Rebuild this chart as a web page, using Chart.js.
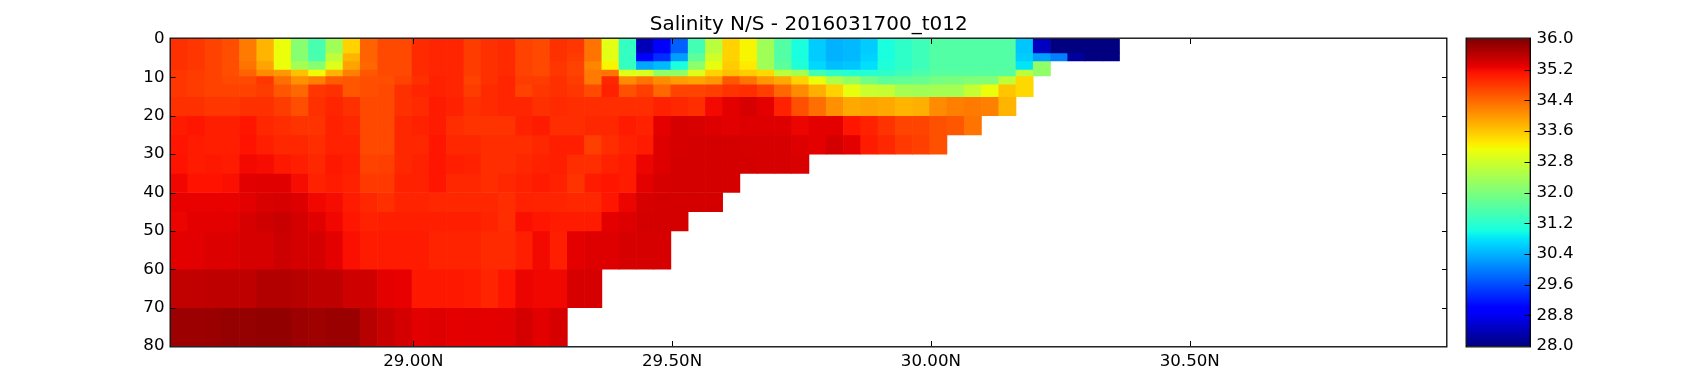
<!DOCTYPE html>
<html><head><meta charset="utf-8">
<style>html,body{margin:0;padding:0;background:#fff;width:1700px;height:384px;overflow:hidden}
#wrapA{position:absolute;left:0;top:0;width:1460px;height:384px}
#wrapB{position:absolute;left:1460px;top:0;width:240px;height:384px}</style>
<script src="https://cdn.jsdelivr.net/npm/chart.js@4"></script>
</head><body>
<div id="wrapA"><canvas id="map"></canvas></div>
<div id="wrapB"><canvas id="bar"></canvas></div>
<script>
const titleText = "Salinity N/S - 2016031700_t012";
const latCenters = [28.5477,28.5810,28.6143,28.6477,28.6810,28.7143,28.7477,28.7810,28.8143,28.8477,28.8810,28.9143,28.9477,28.9810,29.0143,29.0477,29.0810,29.1143,29.1477,29.1810,29.2143,29.2477,29.2810,29.3143,29.3477,29.3810,29.4143,29.4477,29.4810,29.5143,29.5477,29.5810,29.6143,29.6477,29.6810,29.7143,29.7477,29.7810,29.8143,29.8477,29.8810,29.9143,29.9477,29.9810,30.0143,30.0477,30.0810,30.1143,30.1477,30.1810,30.2143,30.2477,30.2810,30.3143,30.3477];
const depthEdges = [0,3.6,5.7,7.9,9.6,11.8,15,20,25,30,35,40,45,50,60,70,80];
const xTickValues = [29,29.5,30,30.5];
const yTickValues = [0,10,20,30,40,50,60,70,80];
const cbarTickValues = [28,28.8,29.6,30.4,31.2,32,32.8,33.6,34.4,35.2,36];

const row00 = [34.87,34.82,34.72,34.62,34.25,33.75,33.1,32.1,31.5,32.35,33.5,34.45,34.67,34.67,34.92,34.97,34.97,34.77,34.87,34.92,34.72,34.67,34.87,34.82,34.3,33.0,31.3,28.4,28.85,29.75,31.45,32.6,33.5,33.2,32.35,31.6,31.05,30.6,30.4,30.45,30.6,31.05,31.25,31.4,31.6,31.6,31.6,31.6,31.6,30.55,28.45,28,28,28,28];
const row01 = [34.87,34.82,34.72,34.62,34.25,33.75,33.1,32.1,31.5,32.65,33.75,34.45,34.67,34.67,34.92,34.97,34.97,34.77,34.87,34.92,34.72,34.67,34.87,34.77,34.3,33.0,31.3,28.95,29.35,30.25,31.7,32.8,33.5,33.2,32.35,31.6,31.05,30.6,30.4,30.45,30.65,31.05,31.25,31.4,31.6,31.6,31.6,31.6,31.6,30.6,30.25,30.0,28.2,28,28];
const row02 = [34.87,34.82,34.72,34.62,34.3,33.9,33.1,32.4,32.1,32.95,33.9,34.4,34.67,34.67,34.92,34.97,34.97,34.77,34.87,34.92,34.72,34.67,34.82,34.72,34.15,33.2,31.3,30.3,30.45,31.05,32.15,33.05,33.55,33.3,32.35,31.7,31.1,30.7,30.5,30.55,30.75,31.1,31.25,31.4,31.6,31.6,31.6,31.6,31.6,30.8,32.2];
const row03 = [34.82,34.77,34.72,34.62,34.45,34.1,34.0,33.65,33.15,33.75,34.2,34.55,34.67,34.67,34.92,34.97,34.97,34.77,34.87,34.92,34.72,34.67,34.82,34.72,34.25,34.3,32.95,32.9,32.2,32.2,32.95,33.5,33.65,33.55,33.45,32.6,32.4,31.45,31.25,31.15,31.15,31.25,31.4,31.55,31.65,31.65,31.65,31.65,31.65,32.6,32.2];
const row04 = [34.82,34.77,34.72,34.67,34.67,34.82,34.35,34.05,34.2,34.5,34.55,34.62,34.62,34.72,34.87,35.0,34.97,34.72,34.87,34.97,34.77,34.77,34.87,34.77,34.25,34.95,34.1,34.3,34.1,33.95,33.9,34.0,34.55,34.3,34.0,33.85,33.5,33.1,32.5,32.25,31.9,31.7,31.75,31.8,31.95,32.0,32.05,32.05,32.65,33.45];
const row05 = [34.82,34.77,34.72,34.72,34.72,34.77,34.55,34.4,34.82,34.87,34.55,34.62,34.67,34.87,34.97,35.0,34.97,34.77,34.92,34.97,34.72,34.82,34.87,34.82,34.65,35.0,34.6,34.75,34.4,34.7,34.7,34.75,34.85,34.9,34.75,34.4,34.1,33.8,33.5,33.05,32.75,32.7,32.4,32.35,32.4,32.4,32.7,33.1,33.6,33.45];
const row06 = [34.87,34.87,34.82,34.82,34.87,34.87,34.77,34.62,34.87,34.97,34.87,34.67,34.67,34.87,34.92,35.05,35.0,34.87,34.92,34.97,34.97,34.87,34.92,34.9,34.9,34.9,34.9,34.9,35.0,34.95,34.9,35.2,35.3,35.4,35.3,35.0,34.6,34.35,34.05,33.85,33.9,33.85,33.75,33.8,34.1,34.2,34.25,34.2,33.75];
const row07 = [35.05,35.1,35.02,35.02,35.1,34.95,34.9,34.85,34.85,35.0,34.95,34.67,34.67,34.95,35.0,35.05,34.9,34.85,34.85,34.85,35.0,35.05,34.9,34.9,34.95,34.95,35.05,35.0,35.3,35.4,35.38,35.35,35.32,35.35,35.35,35.35,35.25,35.3,35.3,35.1,35.0,34.85,34.7,34.7,34.6,34.55,34.3];
const row08 = [35.1,35.05,35.02,35.02,35.12,35.02,34.95,34.95,34.9,35.0,35.0,34.67,34.67,34.95,34.95,35.1,34.95,34.95,34.9,34.9,34.9,34.95,35.02,35.02,34.75,34.9,35.0,35.05,35.35,35.4,35.42,35.42,35.42,35.4,35.4,35.4,35.35,35.3,35.42,35.3,35.05,34.95,34.8,34.75,34.6];
const row09 = [35.12,35.05,35.08,35.05,35.2,35.18,35.08,35.02,34.95,35.08,35.02,34.72,34.75,34.95,35.0,35.1,35.02,35.0,34.9,34.9,34.95,35.0,35.02,34.9,34.9,35.0,35.05,35.25,35.35,35.42,35.42,35.42,35.42,35.42,35.4,35.4,35.38];
const row10 = [35.22,35.12,35.12,35.15,35.32,35.33,35.33,35.18,35.0,35.05,35.0,34.8,34.8,35.0,35.0,35.1,34.95,34.95,34.9,34.95,35.0,35.05,35.0,34.85,35.05,35.1,35.05,35.3,35.4,35.42,35.42,35.42,35.42];
const row11 = [35.27,35.27,35.27,35.27,35.32,35.38,35.4,35.35,35.22,35.18,35.05,34.95,34.88,34.98,34.98,34.95,34.95,34.95,34.95,34.9,35.0,34.98,34.98,34.95,34.95,35.1,35.25,35.4,35.42,35.42,35.42,35.42];
const row12 = [35.25,35.3,35.3,35.3,35.4,35.45,35.5,35.42,35.33,35.22,35.1,35.0,35.02,35.02,35.02,35.02,35.02,35.02,34.98,34.9,35.15,35.1,35.05,35.05,35.05,35.3,35.35,35.42,35.42,35.42];
const row13 = [35.3,35.32,35.36,35.36,35.4,35.4,35.47,35.42,35.42,35.3,35.15,35.05,35.05,35.05,35.05,34.98,34.98,34.98,34.92,34.92,35.02,35.2,35.02,35.3,35.35,35.35,35.4,35.4,35.4];
const row14 = [35.55,35.55,35.57,35.57,35.57,35.65,35.65,35.62,35.57,35.57,35.45,35.45,35.3,35.28,35.08,35.08,35.08,35.05,34.97,35.1,35.25,35.22,35.22,35.4,35.4];
const row15 = [35.8,35.8,35.82,35.85,35.85,35.87,35.87,35.8,35.78,35.82,35.82,35.62,35.5,35.42,35.32,35.35,35.3,35.32,35.3,35.32,35.42,35.32,35.4];
const salinityRows = [row00,row01,row02,row03,row04,row05,row06,row07,row08,row09,row10,row11,row12,row13,row14,row15];

// matplotlib "jet" colour map anchors
const jetStops = [0,0.11,0.125,0.34,0.35,0.375,0.64,0.65,0.66,0.89,0.91,1];
const jetAt = n => {
  const seg = (p, n) => { for (let i=1;i<p.length;i++) if (n<=p[i][0]) { const a=p[i-1],b=p[i]; return a[1]+(b[1]-a[1])*(n-a[0])/(b[0]-a[0]); } return p[p.length-1][1]; };
  const r = seg([[0,0],[.35,0],[.66,1],[.89,1],[1,.5]],n);
  const g = seg([[0,0],[.125,0],[.375,1],[.64,1],[.91,0],[1,0]],n);
  const b = seg([[0,.5],[.11,1],[.34,1],[.65,0],[1,0]],n);
  return `rgb(${Math.round(r*255)},${Math.round(g*255)},${Math.round(b*255)})`;
};
const vMin = 28, vMax = 36;
const colourOf = v => jetAt(Math.max(0,Math.min(1,(v-vMin)/(vMax-vMin))));

const font = {family:"'DejaVu Sans'", size:16.67};

const datasets = salinityRows.map((vals,i)=>({
  label:'row'+i,
  data: vals.map((v,k)=>({x:latCenters[k], y:[depthEdges[i],depthEdges[i+1]], s:v})),
  backgroundColor: vals.map(colourOf),
  borderWidth:0, barPercentage:1, categoryPercentage:1, grouped:false
}));

const frame = {
  id:'frame',
  afterDraw(chart, args, o){
    const {ctx, chartArea:a, scales} = chart;
    ctx.save();
    ctx.strokeStyle='#000'; ctx.lineWidth=1.3;
    ctx.strokeRect(a.left-.3,a.top-.8,a.right-a.left+.1,a.bottom-a.top+1.6);
    ctx.lineWidth=1; ctx.beginPath();
    const yS = scales.y, xS = scales.x, L=o.len||5;
    yS.ticks.forEach((t,i)=>{ const p=Math.round(yS.getPixelForTick(i))+.5;
      if (i===0||i===yS.ticks.length-1) return;
      if(!o.rightOnly){ctx.moveTo(a.left,p);ctx.lineTo(a.left+L,p);}
      ctx.moveTo(a.right,p);ctx.lineTo(a.right-L,p); });
    if(!o.rightOnly) xS.ticks.forEach((t,i)=>{ const p=Math.round(xS.getPixelForTick(i))+.5;
      ctx.moveTo(p,a.top);ctx.lineTo(p,a.top+L); ctx.moveTo(p,a.bottom);ctx.lineTo(p,a.bottom-L); });
    ctx.stroke(); ctx.restore();
  }
};

new Chart(document.getElementById('map'),{
  type:'bar',
  data:{datasets},
  plugins:[frame],
  options:{
    responsive:true, maintainAspectRatio:false, animation:false,
    layout:{padding:{left:0,right:13,top:0,bottom:0}},
    events:[],
    scales:{
      x:{type:'linear',offset:false,min:28.531,max:30.997,
        afterBuildTicks:s=>{s.ticks=xTickValues.map(v=>({value:v}));},
        afterFit:s=>{s.height=38;},
        grid:{display:false,drawTicks:false,offset:false},border:{display:false},
        ticks:{autoSkip:false,maxRotation:0,padding:6,color:'#000',font,callback:v=>v.toFixed(2)+'N'}},
      y:{type:'linear',reverse:true,min:0,max:80,
        afterBuildTicks:s=>{s.ticks=yTickValues.map(v=>({value:v}));},
        afterFit:s=>{s.width=170.5;},
        grid:{display:false,drawTicks:false},border:{display:false},
        ticks:{autoSkip:false,padding:6,color:'#000',font}}
    },
    plugins:{
      legend:{display:false},tooltip:{enabled:false},
      title:{display:true,text:titleText,fullSize:false,color:'#000',
        font:{family:"'DejaVu Sans'",size:20,weight:'normal'},padding:{top:13,bottom:2}},
      frame:{len:5}
    }
  }
});

new Chart(document.getElementById('bar'),{
  type:'bar',
  data:{labels:['S'],datasets:[{
    data:[[vMin,vMax]],
    barPercentage:1,categoryPercentage:1,borderWidth:0,
    backgroundColor:c=>{
      const a=c.chart.chartArea; if(!a) return '#000';
      const g=c.chart.ctx.createLinearGradient(0,a.bottom,0,a.top);
      jetStops.forEach(n=>g.addColorStop(n,jetAt(n)));
      return g;
    }
  }]},
  plugins:[frame],
  options:{
    responsive:true,maintainAspectRatio:false,animation:false,events:[],
    layout:{padding:{left:6.5,right:0,top:39,bottom:0}},
    scales:{
      x:{display:true,grid:{display:false,drawTicks:false},border:{display:false},
        ticks:{display:false},afterFit:s=>{s.height=38;}},
      y:{type:'linear',position:'right',min:vMin,max:vMax,
        afterBuildTicks:s=>{s.ticks=cbarTickValues.map(v=>({value:v}));},
        afterFit:s=>{s.width=169.5;},
        grid:{display:false,drawTicks:false},border:{display:false},
        ticks:{autoSkip:false,padding:6,color:'#000',font,callback:v=>v.toFixed(1)}}
    },
    plugins:{legend:{display:false},tooltip:{enabled:false},frame:{len:6,rightOnly:true}}
  }
});
</script>
</body></html>
